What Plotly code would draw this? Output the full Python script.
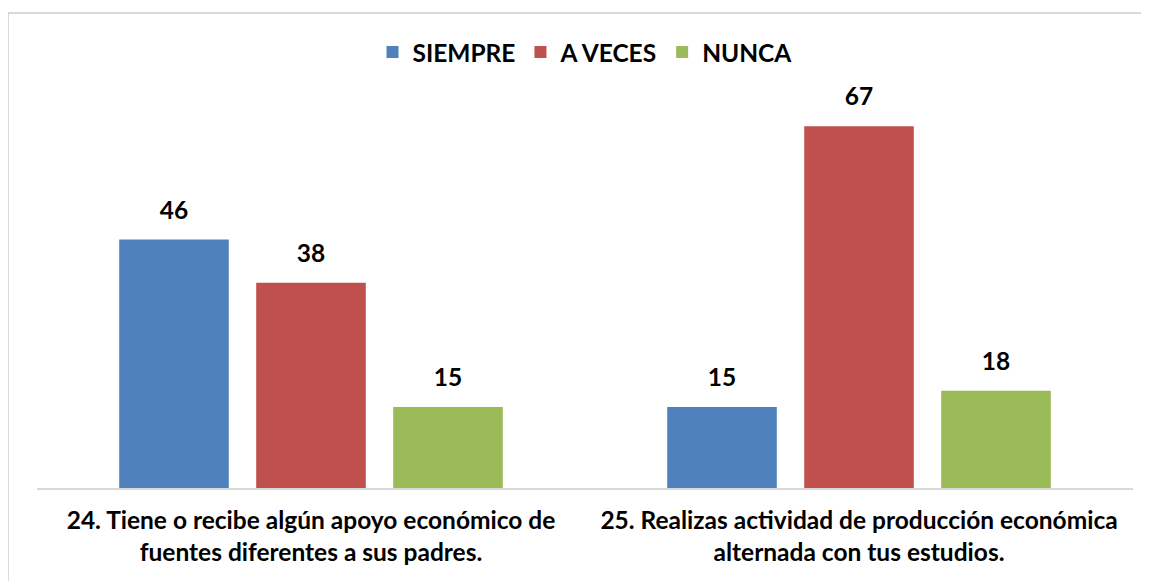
import plotly.graph_objects as go

categories = [
    "24. Tiene o recibe algún apoyo económico de<br>fuentes diferentes a sus padres.",
    "25. Realizas actividad de producción económica<br>alternada con tus estudios.",
]
series_names = ["SIEMPRE", "A VECES", "NUNCA"]
siempre = [46, 15]
a_veces = [38, 67]
nunca = [15, 18]
colors = ["#4F81BD", "#C0504D", "#9BBB59"]

FONT = "Lato"
FS = 24.5

fig = go.Figure()
for name, vals, col in zip(series_names, [siempre, a_veces, nunca], colors):
    fig.add_trace(go.Bar(
        x=categories, y=vals, name="<b>" + name + "</b>",
        marker=dict(color=col, line=dict(width=0)),
        offsetgroup=name, alignmentgroup="g",
    ))
for name, vals in zip(series_names, [siempre, a_veces, nunca]):
    fig.add_trace(go.Scatter(
        x=categories, y=vals, mode="markers+text", showlegend=False,
        text=["<b>%d</b>" % v for v in vals], textposition="top center",
        textfont=dict(family=FONT, size=FS, color="#000000"),
        marker=dict(size=22, opacity=0), hoverinfo="skip",
        offsetgroup=name, alignmentgroup="g", cliponaxis=False,
    ))

fig.update_layout(
    width=1149, height=581,
    margin=dict(l=29, r=24, t=82, b=101, autoexpand=False),
    paper_bgcolor="white", plot_bgcolor="white",
    barmode="group", bargap=0.25, bargroupgap=0.2,
    scattermode="group", scattergap=0.25,
    font=dict(family=FONT, color="#000000"),
    legend=dict(
        orientation="h", x=0.5, xanchor="center", y=1.095, yanchor="middle",
        font=dict(family=FONT, size=FS, color="#000000"),
        bgcolor="rgba(0,0,0,0)", traceorder="normal",
    ),
    showlegend=True,
    shapes=[dict(
        type="rect", xref="paper", yref="paper",
        x0=-0.0265, x1=1.03, y0=-0.4, y1=1.1935,
        line=dict(color="#D9D9D9", width=2), fillcolor="rgba(0,0,0,0)", layer="below",
    )],
)
fig.update_xaxes(
    showline=True, linecolor="#D9D9D9", linewidth=1.5,
    ticks="", tickfont=dict(family=FONT, size=FS, color="#000000"),
    showgrid=False, automargin=False, ticklabelstandoff=10,
    tickvals=categories,
    ticktext=["<b>" + c.replace("<br>", "</b><br><b>") + "</b>" for c in categories],
)
fig.update_yaxes(
    range=[0, 73.7], visible=False, showgrid=False, zeroline=False,
)
fig.write_html("out.html")
